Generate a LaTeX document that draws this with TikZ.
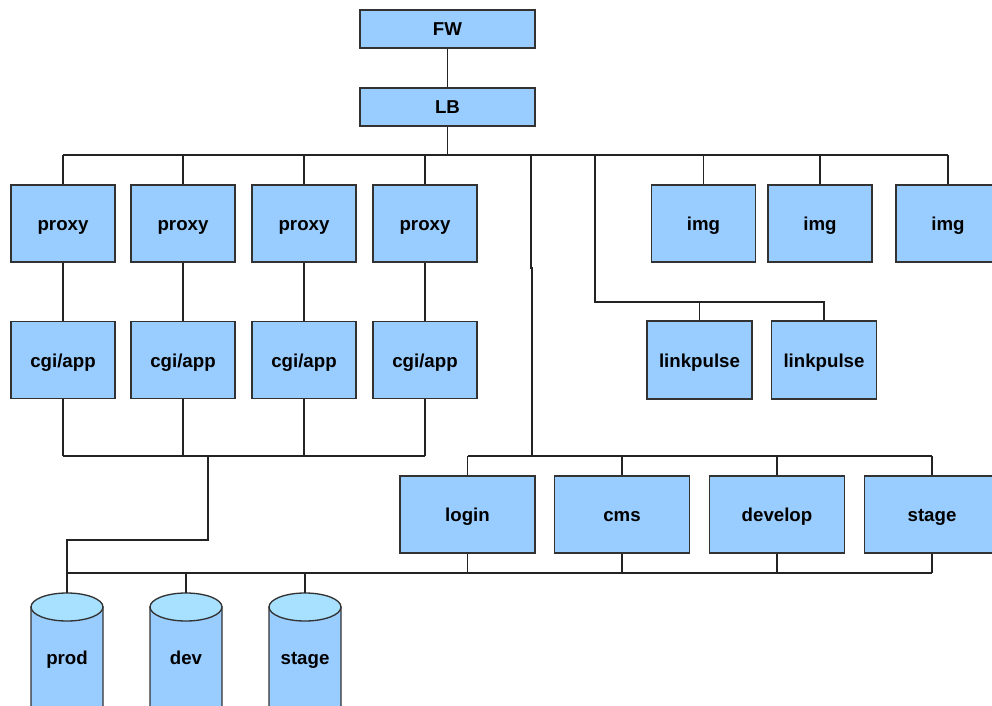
\documentclass[tikz,border=0pt]{standalone}
\usepackage{fontspec}
\setmainfont{Liberation Sans}
\definecolor{boxfill}{RGB}{153,204,255}
\definecolor{diskcap}{RGB}{168,224,255}
\definecolor{edge}{RGB}{50,50,50}
\definecolor{wire}{RGB}{35,35,35}
\begin{document}
\begin{tikzpicture}[x=0.75pt,y=-0.75pt,
  every node/.style={font=\fontsize{14}{16}\selectfont\bfseries, inner sep=0pt,
    text height=10.5pt, text depth=0pt},
  server/.style={draw=edge, fill=boxfill, line width=1pt, rectangle},
  wide/.style={server, minimum width=175*0.75pt, minimum height=38*0.75pt},
  tile/.style={server, minimum width=104*0.75pt, minimum height=77*0.75pt},
  broad/.style={server, minimum width=135*0.75pt, minimum height=77*0.75pt},
  disk/.style={draw=edge, fill=boxfill, line width=1pt},
  diskend/.style={draw=edge, fill=diskcap, line width=1pt},
  link/.style={draw=wire, line width=1pt}]
\path[use as bounding box, clip] (0,0) rectangle (992,706);

% top of the tree
\node[wide] (fw) at (447.5,29) {FW};
\node[wide] (lb) at (447.5,107) {LB};

% front-end rows
\foreach \i/\x in {1/63,2/183,3/304,4/425}{
  \node[tile] (p\i) at (\x,223.5) {proxy};
  \node[tile] (c\i) at (\x,360) {cgi/app};
}
\node[tile] (img1) at (703.5,223.5) {img};
\node[tile] (img2) at (820,223.5) {img};
\node[tile] (img3) at (948,223.5) {img};
\node[tile, minimum width=105*0.75pt, minimum height=78*0.75pt] (lp1) at (699.5,360) {linkpulse};
\node[tile, minimum width=105*0.75pt, minimum height=78*0.75pt] (lp2) at (824,360) {linkpulse};

% back-office row
\node[broad] (login) at (467.5,514.5) {login};
\node[broad] (cms) at (622,514.5) {cms};
\node[broad] (develop) at (777,514.5) {develop};
\node[broad] (stg) at (932,514.5) {stage};

% databases
\foreach \n/\x in {prod/67,dev/186,stage/305}{
  \path[disk] (\x-36,607) -- (\x-36,716)
     arc[start angle=180, end angle=360, x radius=27pt, y radius=10.5pt]
     -- (\x+36,607) -- cycle;
  \path[diskend] (\x,607) ellipse[x radius=27pt, y radius=10.5pt];
  \node (db\n) at (\x,657) {\n};
  \coordinate (db\n top) at (\x,593);
}

% bus coordinates
\coordinate (mainbus) at (0,155);
\coordinate (appbus) at (0,456);
\coordinate (dbbus) at (0,573);
\coordinate (appdrop) at (208,456);
\coordinate (appbend) at (67,540);
\coordinate (trunk) at (531,155);
\coordinate (trunkjog) at (531,268);
\coordinate (lpspur) at (595,155);
\coordinate (lpbend) at (595,302);
\coordinate (lpbus) at (0,302);

% wiring
\draw[link] (fw) -- (lb);
\draw[link] (lb) -- (lb.south |- mainbus);
\draw[link] (p1.north |- mainbus) -- (img3.north |- mainbus);
\foreach \i in {1,2,3,4}{
  \draw[link] (p\i) -- (p\i.north |- mainbus);
  \draw[link] (p\i) -- (c\i);
  \draw[link] (c\i) -- (c\i.south |- appbus);
}
\foreach \n in {img1,img2,img3}{
  \draw[link] (\n) -- (\n.north |- mainbus);
}
\draw[link] (c1.south |- appbus) -- (c4.south |- appbus);
\draw[link] (appdrop) |- (appbend) -- (appbend |- dbbus);

% trunk to the back-office row
\draw[link] (trunk) -- (trunkjog) -- ++(1,0) -- ([xshift=0.75pt]trunk |- appbus);
\draw[link] (login.north |- appbus) -- (stg.north |- appbus);
\foreach \n in {login,cms,develop,stg}{
  \draw[link] (\n) -- (\n.north |- appbus);
  \draw[link] (\n) -- (\n.south |- dbbus);
}

% spur to the linkpulse pair
\draw[link] (lpspur) -- (lpbend) -- (lp2.north |- lpbus) -- (lp2);
\draw[link] (lp1) -- (lp1.north |- lpbus);

% database bus
\draw[link] (appbend |- dbbus) -- (stg.south |- dbbus);
\foreach \n in {prod,dev,stage}{
  \draw[link] (db\n top) -- (db\n top |- dbbus);
}
\end{tikzpicture}
\end{document}
